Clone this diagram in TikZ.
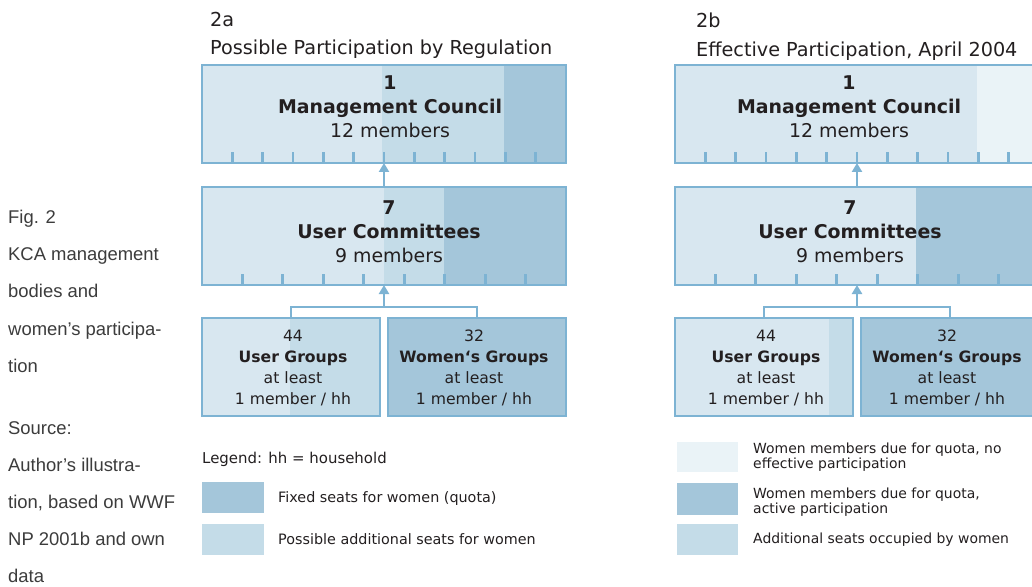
\documentclass[tikz,border=0pt]{standalone}
\usepackage{fontspec}
\setmainfont{DejaVu Sans}
\newfontfamily\capfont{Liberation Sans}
\usetikzlibrary{arrows.meta}
\definecolor{lt}{HTML}{D8E7F0}
\definecolor{md}{HTML}{C4DCE8}
\definecolor{dk}{HTML}{A4C6DA}
\definecolor{vl}{HTML}{EAF3F7}
\definecolor{bd}{HTML}{7DB3D3}
\definecolor{tx}{HTML}{231F20}
\definecolor{capc}{HTML}{3C3C3C}
\begin{document}
\begin{tikzpicture}[x=1bp,y=-1bp,
  box/.style={rectangle,draw=bd,line width=2.8bp,minimum height=98bp,inner sep=0pt,outer sep=0pt},
  bigbox/.style={box,minimum width=364bp},
  smallbox/.style={box,minimum width=178bp},
  tick/.style={draw=bd,line width=2.8bp},
  conn/.style={draw=bd,line width=2.8bp},
  arr/.style={conn,-{Triangle[width=10bp,length=9bp]}},
  boxtext/.style={align=center,text=tx,inner sep=0pt,font=\fontsize{19}{24}\selectfont},
  grouptext/.style={align=center,text=tx,inner sep=0pt,font=\fontsize{15.7}{21.3}\selectfont},
  title/.style={anchor=base west,text=tx,inner sep=0pt,font=\fontsize{19.3}{23}\selectfont},
  captext/.style={anchor=base west,text=capc,inner sep=0pt,font=\capfont\fontsize{18.5}{22}\selectfont},
  legtext/.style={anchor=west,align=left,text=tx,inner sep=0pt,font=\fontsize{14.4}{15}\selectfont},
  legtextb/.style={anchor=west,align=left,text=tx,inner sep=0pt,font=\fontsize{14}{15}\selectfont},
  swatch/.style={rectangle,inner sep=0pt,outer sep=0pt,minimum width=62bp}
]
\clip (0,0) rectangle (1032,587);
\fill[white] (0,0) rectangle (1032,587);

% ---------- left caption ----------
\node[captext] (c1) at (8,224) {Fig. 2};
\node[captext] (c2) at (8,261) {KCA management};
\node[captext] (c3) at (8,298) {bodies and};
\node[captext] (c4) at (8,335) {women’s participa-};
\node[captext] (c5) at (8,372) {tion};
\node[captext] (c6) at (8,434) {Source:};
\node[captext] (c7) at (8,471) {Author’s illustra-};
\node[captext] (c8) at (8,508) {tion, based on WWF};
\node[captext] (c9) at (8,545) {NP 2001b and own};
\node[captext] (c10) at (8,582) {data};

% ---------- 2a ----------
\node[title] (a_num) at (210,27) {2a};
\node[title] (a_title) at (210,55) {Possible Participation by Regulation};

% top box fills
\fill[lt] (202,65) rectangle (382,163);
\fill[md] (382,65) rectangle (504,163);
\fill[dk] (504,65) rectangle (566,163);
\foreach \k in {1,...,11} \draw[tick] ({202+\k*364/12},163) -- ({202+\k*364/12},152);
\node[bigbox] (a_top) at (384,114) {};
\node[boxtext] (a_top_t) at (390,107) {\textbf{1}\\\textbf{Management Council}\\12 members};

% middle box
\fill[lt] (202,187) rectangle (384,285);
\fill[md] (384,187) rectangle (444,285);
\fill[dk] (444,187) rectangle (566,285);
\foreach \k in {1,...,8} \draw[tick] ({202+\k*364/9},285) -- ({202+\k*364/9},274);
\node[bigbox] (a_mid) at (384,236) {};
\node[boxtext] (a_mid_t) at (389,232) {\textbf{7}\\\textbf{User Committees}\\9 members};

% bottom boxes
\fill[lt] (202,318) rectangle (290,416);
\fill[md] (290,318) rectangle (380,416);
\fill[dk] (388,318) rectangle (566,416);
\node[smallbox] (a_ug) at (291,367) {};
\node[smallbox] (a_wg) at (477,367) {};
\node[grouptext] (a_ug_t) at (293,368) {44\\\textbf{User Groups}\\at least\\1 member / hh};
\node[grouptext] (a_wg_t) at (474,368) {32\\\textbf{Women‘s Groups}\\at least\\1 member / hh};

% connectors
\coordinate (a_br) at (384,307);
\draw[conn] (a_ug.north) |- (a_br) -| (a_wg.north);
\draw[arr] (a_br) -- (a_mid.south);
\draw[arr] (a_mid.north) -- (a_top.south);

% legend 2a
\node[legtext,anchor=base west,font=\fontsize{15}{15}\selectfont] (a_leg) at (202,463) {Legend: hh = household};
\node[swatch,fill=dk,minimum height=31bp] (a_sw1) at (233,497.5) {};
\node[legtext] (a_sw1_t) at (278,499) {Fixed seats for women (quota)};
\node[swatch,fill=md,minimum height=31bp] (a_sw2) at (233,539.5) {};
\node[legtext] (a_sw2_t) at (278,539) {Possible additional seats for women};

% ---------- 2b ----------
\node[title] (b_num) at (696,28) {2b};
\node[title] (b_title) at (696,57) {Effective Participation, April 2004};

\fill[lt] (675,65) rectangle (977,163);
\fill[vl] (977,65) rectangle (1039,163);
\foreach \k in {1,...,11} \draw[tick] ({675+\k*364/12},163) -- ({675+\k*364/12},152);
\node[bigbox] (b_top) at (857,114) {};
\node[boxtext] (b_top_t) at (849,107) {\textbf{1}\\\textbf{Management Council}\\12 members};

\fill[lt] (675,187) rectangle (916,285);
\fill[dk] (916,187) rectangle (1039,285);
\foreach \k in {1,...,8} \draw[tick] ({675+\k*364/9},285) -- ({675+\k*364/9},274);
\node[bigbox] (b_mid) at (857,236) {};
\node[boxtext] (b_mid_t) at (850,232) {\textbf{7}\\\textbf{User Committees}\\9 members};

\fill[lt] (675,318) rectangle (829,416);
\fill[md] (829,318) rectangle (853,416);
\fill[dk] (861,318) rectangle (1039,416);
\node[smallbox] (b_ug) at (764,367) {};
\node[smallbox] (b_wg) at (950,367) {};
\node[grouptext] (b_ug_t) at (766,368) {44\\\textbf{User Groups}\\at least\\1 member / hh};
\node[grouptext] (b_wg_t) at (947,368) {32\\\textbf{Women‘s Groups}\\at least\\1 member / hh};

\coordinate (b_br) at (857,307);
\draw[conn] (b_ug.north) |- (b_br) -| (b_wg.north);
\draw[arr] (b_br) -- (b_mid.south);
\draw[arr] (b_mid.north) -- (b_top.south);

% legend 2b
\node[swatch,fill=vl,minimum width=61bp,minimum height=30bp] (b_sw1) at (707.5,457) {};
\node[legtextb] (b_sw1_t) at (753,457.5) {Women members due for quota, no\\effective participation};
\node[swatch,fill=dk,minimum width=61bp,minimum height=32bp] (b_sw2) at (707.5,499) {};
\node[legtextb] (b_sw2_t) at (753,502) {Women members due for quota,\\active participation};
\node[swatch,fill=md,minimum width=61bp,minimum height=31bp] (b_sw3) at (707.5,539.5) {};
\node[legtextb] (b_sw3_t) at (753,540) {Additional seats occupied by women};
\end{tikzpicture}
\end{document}
